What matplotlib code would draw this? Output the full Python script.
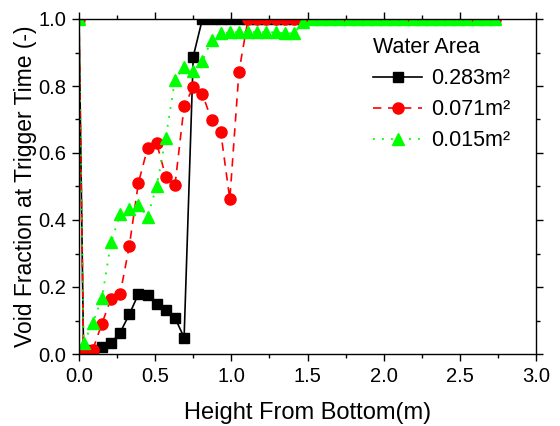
import matplotlib
matplotlib.use("Agg")
import matplotlib.pyplot as plt
from matplotlib.ticker import MultipleLocator

plt.rcParams['font.family'] = ['Liberation Sans', 'DejaVu Sans']

# sensor heights (m)
height = [0, 0.03, 0.09, 0.15, 0.21, 0.27, 0.33, 0.39, 0.45, 0.51, 0.57, 0.63,
          0.69, 0.75, 0.81, 0.87, 0.93, 0.99, 1.05, 1.11, 1.17, 1.23, 1.29, 1.35,
          1.41, 1.47, 1.53, 1.59, 1.65, 1.71, 1.77, 1.83, 1.89, 1.95, 2.01, 2.07,
          2.13, 2.19, 2.25, 2.31, 2.37, 2.43, 2.49, 2.55, 2.61, 2.67, 2.73]

void_283 = [1.0, 0.005, 0.012, 0.022, 0.033, 0.064, 0.118, 0.179, 0.177, 0.149,
            0.132, 0.108, 0.049, 0.888, 1.0, 1.0, 1.0, 1.0, 1.0, 1.0, 1.0, 1.0,
            1.0, 1.0, 1.0, 1.0, 1.0, 1.0, 1.0, 1.0, 1.0, 1.0, 1.0, 1.0, 1.0, 1.0,
            1.0, 1.0, 1.0, 1.0, 1.0, 1.0, 1.0, 1.0, 1.0, 1.0, 1.0]
void_071 = [1.0, 0.002, 0.012, 0.09, 0.165, 0.179, 0.322, 0.511, 0.614, 0.629,
            0.528, 0.504, 0.74, 0.796, 0.776, 0.699, 0.664, 0.462, 0.843, 1.0,
            1.0, 1.0, 1.0, 1.0, 1.0, 1.0, 1.0, 1.0, 1.0, 1.0, 1.0, 1.0, 1.0, 1.0,
            1.0, 1.0, 1.0, 1.0, 1.0, 1.0, 1.0, 1.0, 1.0, 1.0, 1.0, 1.0, 1.0]
void_015 = [1.0, 0.032, 0.092, 0.166, 0.333, 0.417, 0.432, 0.445, 0.41, 0.501,
            0.646, 0.819, 0.856, 0.844, 0.874, 0.937, 0.957, 0.96, 0.961, 0.961,
            0.961, 0.961, 0.96, 0.958, 0.957, 0.99, 1.0, 1.0, 1.0, 1.0, 1.0, 1.0,
            1.0, 1.0, 1.0, 1.0, 1.0, 1.0, 1.0, 1.0, 1.0, 1.0, 1.0, 1.0, 1.0, 1.0, 1.0]

labels = ['0.283m²', '0.071m²', '0.015m²']

fig = plt.figure(figsize=(5.6, 4.26), dpi=100)
ax = fig.add_axes([79 / 560, 72 / 426, 457 / 560, 335 / 426])

ax.plot(height, void_283, color='black', lw=1.2, ls='-', marker='s', ms=6.5,
        label=labels[0])
ax.plot(height, void_071, color='#ff0000', lw=1.2, ls=(0, (5, 4)), marker='o',
        ms=8, label=labels[1])
ax.plot(height, void_015, color='#00ff00', lw=1.3, ls=(0, (1, 4)), marker='^',
        ms=8.5, label=labels[2])

ax.set_xlim(0, 3.0)
ax.set_ylim(0, 1.0)
ax.xaxis.set_major_locator(MultipleLocator(0.5))
ax.xaxis.set_minor_locator(MultipleLocator(0.25))
ax.yaxis.set_major_locator(MultipleLocator(0.2))
ax.yaxis.set_minor_locator(MultipleLocator(0.1))
ax.xaxis.set_major_formatter(lambda v, p: f"{v:.1f}")
ax.yaxis.set_major_formatter(lambda v, p: f"{v:.1f}")
ax.tick_params(which='both', direction='out', top=True, right=True, width=1.0)
ax.tick_params(which='major', length=5, labelsize=14.5, pad=4)
ax.tick_params(which='minor', length=3)
for s in ax.spines.values():
    s.set_linewidth(1.0)

ax.set_xlabel("Height From Bottom(m)", fontsize=17, labelpad=12)
ax.set_ylabel("Void Fraction at Trigger Time (-)", fontsize=16.5, labelpad=1)

leg = ax.legend(title='Water Area', loc='upper left', bbox_to_anchor=(0.61, 0.99),
                frameon=False, fontsize=15.5, title_fontsize=15.5, numpoints=1,
                handlelength=2.3, handletextpad=0.4, labelspacing=0.46,
                alignment='left', borderpad=0.2)

fig.savefig("out.png", dpi=100)
